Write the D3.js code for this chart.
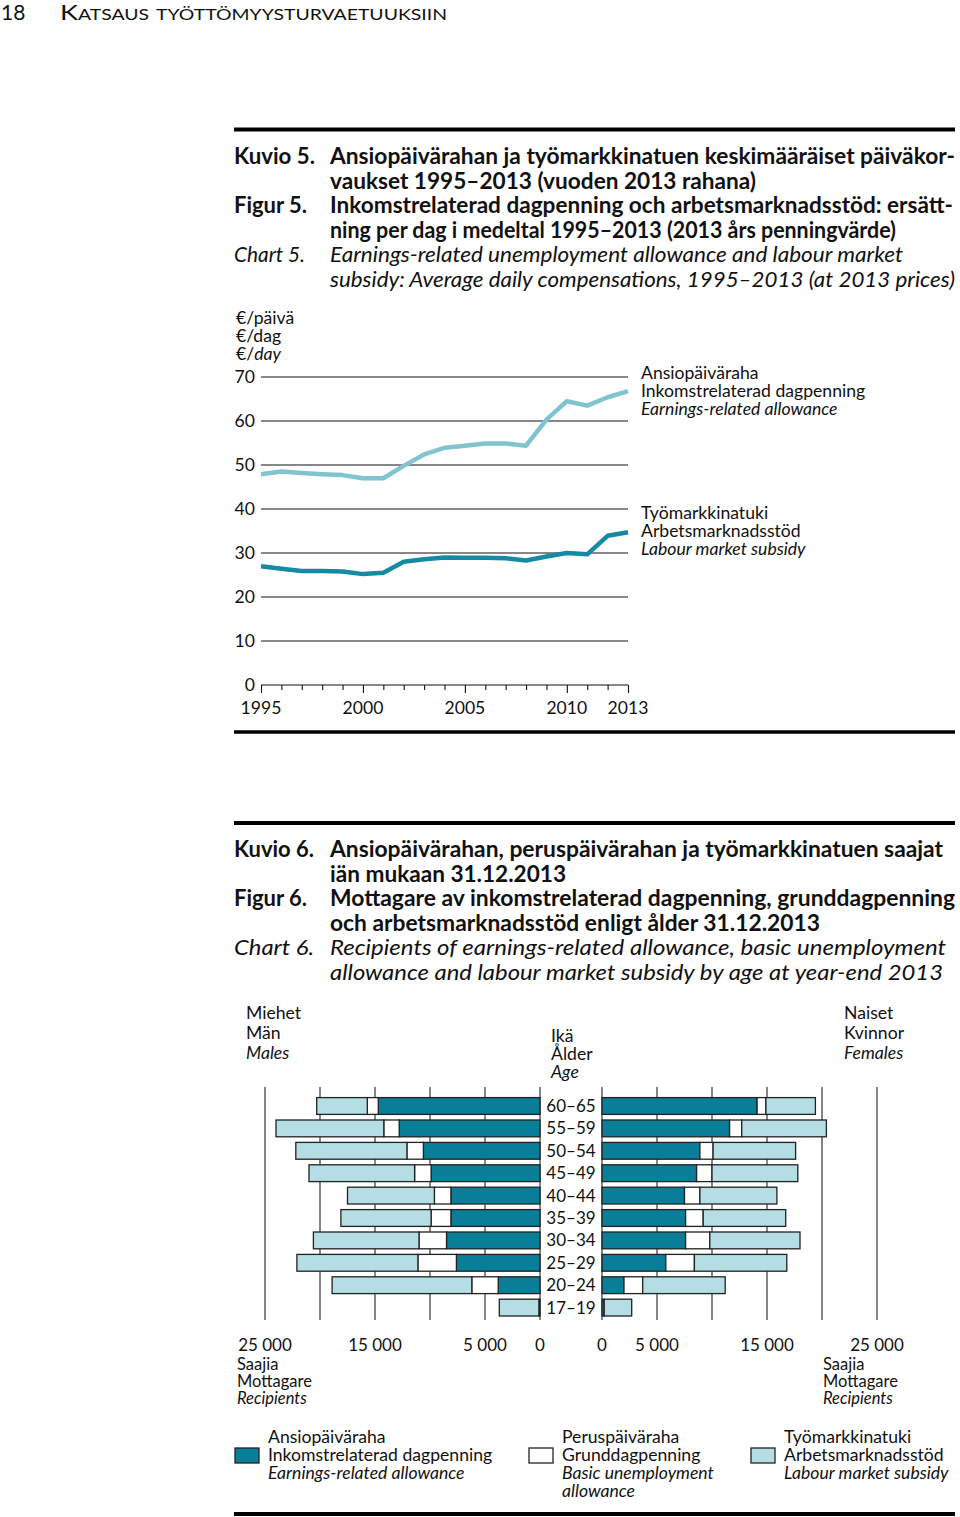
<!DOCTYPE html>
<html><head><meta charset="utf-8">
<script src="https://cdn.jsdelivr.net/npm/d3@7"></script>
<style>
html,body{margin:0;padding:0;background:#fff;}
svg{display:block;}
text{font-family:Lato,"Noto Sans",sans-serif;fill:#111;}
</style></head>
<body>
<svg id="c" width="960" height="1517"></svg>
<script>
// ---------- DATA ----------
const years = d3.range(1995, 2014);
const earningsAllowance = [47.9,48.5,48.2,47.9,47.7,47.0,47.0,49.8,52.4,53.9,54.4,54.9,54.9,54.4,60.3,64.5,63.5,65.4,66.8];
const labourSubsidy    = [27.0,26.4,25.9,25.9,25.8,25.2,25.5,28.0,28.6,29.0,28.9,28.9,28.8,28.3,29.2,30.0,29.7,33.9,34.7];
const yTicks5 = [0,10,20,30,40,50,60,70];
const xLabelYears5 = [1995,2000,2005,2010,2013];

const ages = ["60–65","55–59","50–54","45–49","40–44","35–39","30–34","25–29","20–24","17–19"];
const maleEarnings = [14700,12800,10600,9900,8100,8100,8500,7600,3800,100];
const maleBasic    = [1000,1400,1500,1500,1500,1800,2500,3500,2400,0];
const maleLabour   = [4600,9800,10100,9600,7900,8200,9600,11000,12700,3600];
const femaleEarnings = [14100,11600,8900,8600,7500,7600,7600,5800,2000,200];
const femaleBasic    = [800,1100,1200,1400,1400,1600,2200,2600,1700,0];
const femaleLabour   = [4500,7700,7500,7800,7000,7500,8200,8400,7500,2500];
const gridTicks6 = [0,5000,10000,15000,20000,25000];
const labelTicks6 = [25000,15000,5000,0];

const title5 = [
  ["Kuvio 5.", "Ansiopäivärahan ja työmarkkinatuen keskimääräiset päiväkor-", "b"],
  ["", "vaukset 1995–2013 (vuoden 2013 rahana)", "b"],
  ["Figur 5.", "Inkomstrelaterad dagpenning och arbetsmarknadsstöd: ersätt-", "b"],
  ["", "ning per dag i medeltal 1995–2013 (2013 års penningvärde)", "b"],
  ["Chart 5.", "Earnings-related unemployment allowance and labour market", "i"],
  ["", "subsidy: Average daily compensations, 1995–2013 (at 2013 prices)", "i"]
];
const title6 = [
  ["Kuvio 6.", "Ansiopäivärahan, peruspäivärahan ja työmarkkinatuen saajat", "b"],
  ["", "iän mukaan 31.12.2013", "b"],
  ["Figur 6.", "Mottagare av inkomstrelaterad dagpenning, grunddagpenning", "b"],
  ["", "och arbetsmarknadsstöd enligt ålder 31.12.2013", "b"],
  ["Chart 6.", "Recipients of earnings-related allowance, basic unemployment", "i"],
  ["", "allowance and labour market subsidy by age at year-end 2013", "i"]
];

// ---------- LAYOUT ----------
const title5Widths = [[81,625],[0,426],[73,623],[0,566],[71,573],[0,625]];
const title6Widths = [[80,613],[0,236],[73,625],[0,490],[80,616],[0,613]];
const C_DARK = "#0a7e98", C_LIGHT = "#b4dde4", L_LIGHT = "#80c4d0", L_DARK = "#168aa3";
const FS = "17.6px";

const svg = d3.select("#c");

// page header
svg.append("text").attr("x",1).attr("y",20).style("font-size","21px").text("18");
svg.append("text").attr("x",60).attr("y",20).style("font-size","21px")
  .style("font-variant","small-caps").attr("textLength",387).attr("lengthAdjust","spacingAndGlyphs")
  .text("Katsaus työttömyysturvaetuuksiin");

function rule(y, w){ svg.append("line").attr("x1",234).attr("x2",955).attr("y1",y).attr("y2",y).attr("stroke","#000").attr("stroke-width",w); }
function titleBlock(lines, widths, y0){
  lines.forEach((l,i)=>{
    const y = y0 + i*24.5;
    const st = l[2]==="b" ? {w:"bold",s:"normal"} : {w:"normal",s:"italic"};
    if(l[0]) svg.append("text").attr("x",234).attr("y",y).style("font-size","22px")
      .style("font-weight",st.w).style("font-style",st.s)
      .attr("textLength",widths[i][0]).attr("lengthAdjust","spacingAndGlyphs").text(l[0]);
    svg.append("text").attr("x",330).attr("y",y).style("font-size","22px")
      .style("font-weight",st.w).style("font-style",st.s)
      .attr("textLength",widths[i][1]).attr("lengthAdjust","spacingAndGlyphs").text(l[1]);
  });
}

// ========== CHART 5 ==========
rule(129.5,4);
titleBlock(title5, title5Widths, 164);

const x5 = d3.scaleLinear().domain([1995,2013]).range([261,628]);
const y5 = d3.scaleLinear().domain([0,70]).range([685,377]);
const g5 = svg.append("g");

// unit label
["€/päivä","€/dag","€/day"].forEach((u,i)=>{
  const t = g5.append("text").attr("x",236).attr("y",324+i*18).style("font-size",FS);
  if(i<2) t.text(u); else { t.append("tspan").text("€/"); t.append("tspan").style("font-style","italic").text("day"); }
});

// gridlines
g5.selectAll("line.grid").data(yTicks5.filter(d=>d>0)).join("line")
  .attr("x1",x5(1995)).attr("x2",x5(2013)).attr("y1",d=>y5(d)).attr("y2",d=>y5(d))
  .attr("stroke","#111").attr("stroke-width",1.1);
g5.selectAll("text.ytick").data(yTicks5).join("text")
  .attr("x",255).attr("y",d=>y5(d)+6).attr("text-anchor","end").style("font-size",FS).text(d=>d);

// x axis
const xAxis = d3.axisBottom(x5).tickValues(years).tickSize(4).tickFormat("");
const ax = g5.append("g").attr("transform",`translate(0,${y5(0)})`).call(xAxis);
ax.select(".domain").attr("stroke","#111").attr("stroke-width",1.1).attr("d",`M${x5(1995)},0H${x5(2013)}`);
ax.selectAll(".tick line").attr("stroke","#111").attr("stroke-width",1.1)
  .attr("y2",d=>xLabelYears5.includes(d)?8:5);
g5.selectAll("text.xl").data(xLabelYears5).join("text")
  .attr("x",d=>x5(d)).attr("y",714).attr("text-anchor","middle").style("font-size",FS).text(d=>d);

// lines
const lineGen = d3.line().x((d,i)=>x5(years[i])).y(d=>y5(d));
g5.append("path").datum(earningsAllowance).attr("d",lineGen).attr("fill","none")
  .attr("stroke",L_LIGHT).attr("stroke-width",4.5).attr("stroke-linejoin","round");
g5.append("path").datum(labourSubsidy).attr("d",lineGen).attr("fill","none")
  .attr("stroke",L_DARK).attr("stroke-width",4.5).attr("stroke-linejoin","round");

function label3(g, x, y0, lines, step, fs){
  lines.forEach((l,i)=>{
    g.append("text").attr("x",x).attr("y",y0+i*step).style("font-size",fs||FS)
      .style("font-style", l[1]?"italic":"normal").text(l[0]);
  });
}
label3(g5, 641, 379, [["Ansiopäiväraha"],["Inkomstrelaterad dagpenning"],["Earnings-related allowance",1]], 18);
label3(g5, 641, 519, [["Työmarkkinatuki"],["Arbetsmarknadsstöd"],["Labour market subsidy",1]], 18);

rule(732,3.5);

// ========== CHART 6 ==========
rule(823,4);
titleBlock(title6, title6Widths, 857);

const g6 = svg.append("g");
label3(g6, 246, 1019, [["Miehet"],["Män"],["Males",1]], 20);
label3(g6, 551, 1042, [["Ikä"],["Ålder"],["Age",1]], 18);
label3(g6, 844, 1019, [["Naiset"],["Kvinnor"],["Females",1]], 20);

const xm = d3.scaleLinear().domain([0,25000]).range([540,265]);
const xf = d3.scaleLinear().domain([0,25000]).range([602,877]);
const yb = d3.scaleBand().domain(ages).range([1094.8,1318.8]).paddingInner(0.25).paddingOuter(0.125);

// gridlines
[xm,xf].forEach(sc=>{
  g6.selectAll(null).data(gridTicks6).join("line")
    .attr("x1",d=>sc(d)).attr("x2",d=>sc(d)).attr("y1",1087).attr("y2",1320)
    .attr("stroke","#222").attr("stroke-width",1.1);
});

const keys = ["earn","basic","labour"];
const fills = {earn:C_DARK, basic:"#ffffff", labour:C_LIGHT};
function rows(e,b,l){ return ages.map((a,i)=>({age:a, earn:e[i], basic:b[i], labour:l[i]})); }
const stack = d3.stack().keys(keys);
function drawSide(data, sc){
  const series = stack(data);
  series.forEach(s=>{
    g6.selectAll(null).data(s.filter(d=>d[1]-d[0]>0)).join("rect")
      .attr("x",d=>Math.min(sc(d[0]),sc(d[1])))
      .attr("width",d=>Math.abs(sc(d[1])-sc(d[0])))
      .attr("y",d=>yb(d.data.age)).attr("height",yb.bandwidth())
      .attr("fill",fills[s.key]).attr("stroke","#222").attr("stroke-width",1.3);
  });
}
drawSide(rows(maleEarnings,maleBasic,maleLabour), xm);
drawSide(rows(femaleEarnings,femaleBasic,femaleLabour), xf);

// age labels
g6.selectAll("text.age").data(ages).join("text")
  .attr("x",571).attr("y",d=>yb(d)+yb.bandwidth()/2+6).attr("text-anchor","middle")
  .style("font-size","17px").text(d=>d);

// axis labels
const fmt = d=> d===0 ? "0" : d3.format(",")(d).replace(","," ");
[xm,xf].forEach(sc=>{
  g6.selectAll(null).data(labelTicks6).join("text")
    .attr("x",d=>sc(d)).attr("y",1351).attr("text-anchor","middle").style("font-size","17px").text(fmt);
});
label3(g6, 237, 1370, [["Saajia"],["Mottagare"],["Recipients",1]], 17, "16.5px");
label3(g6, 823, 1370, [["Saajia"],["Mottagare"],["Recipients",1]], 17, "16.5px");

// legend
const legend = [
  {x:235, fill:C_DARK, lines:[["Ansiopäiväraha"],["Inkomstrelaterad dagpenning"],["Earnings-related allowance",1]]},
  {x:529, fill:"#ffffff", lines:[["Peruspäiväraha"],["Grunddagpenning"],["Basic unemployment",1],["allowance",1]]},
  {x:751, fill:C_LIGHT, lines:[["Työmarkkinatuki"],["Arbetsmarknadsstöd"],["Labour market subsidy",1]]}
];
legend.forEach(l=>{
  g6.append("rect").attr("x",l.x).attr("y",1448).attr("width",24).attr("height",15)
    .attr("fill",l.fill).attr("stroke","#222").attr("stroke-width",1.3);
  label3(g6, l.x+33, 1443, l.lines, 18);
});

rule(1514,4);
</script>
</body></html>
